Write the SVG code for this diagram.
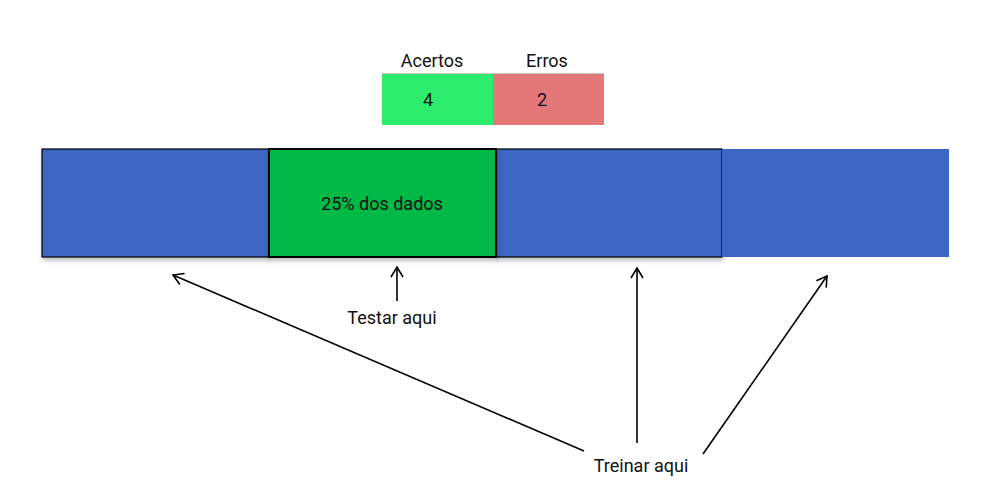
<svg xmlns="http://www.w3.org/2000/svg" width="1000" height="488" viewBox="0 0 1000 488">
<style>
text{font-family:Roboto,"Liberation Sans",sans-serif;font-size:18px;fill:#111;text-anchor:middle}
.blue{fill:#3d66c2}
.edge{stroke:#000;stroke-width:1.6;fill:none}
</style>
<defs>
<marker id="ah" markerWidth="14" markerHeight="14" refX="12" refY="7" orient="auto" markerUnits="userSpaceOnUse">
<path d="M2,1 L12,7 L2,13" fill="none" stroke="#000" stroke-width="1.6"/>
</marker>
<filter id="sh" x="-5%" y="-5%" width="115%" height="120%">
<feDropShadow dx="1" dy="3" stdDeviation="2" flood-color="#000" flood-opacity="0.25"/>
</filter>
</defs>
<rect width="1000" height="488" fill="#fff"/>
<g id="table">
<text x="432" y="67">Acertos</text>
<text x="547" y="67">Erros</text>
<line x1="382" y1="73.5" x2="604" y2="73.5" stroke="#c8c8c8" stroke-width="1"/>
<rect x="382" y="74" width="111" height="51" fill="#2ced6e"/>
<rect x="493" y="74" width="111" height="51" fill="#e47878"/>
<text x="428" y="106">4</text>
<text x="542" y="106">2</text>
</g>
<g id="fold1"><rect x="42" y="149" width="227" height="108" class="blue" stroke="#000" stroke-width="1.2" filter="url(#sh)"/></g>
<g id="fold3"><rect x="496" y="149" width="226" height="108" class="blue" stroke="#000" stroke-width="1.2" filter="url(#sh)"/></g>
<g id="fold4"><rect x="722" y="149" width="227" height="108" class="blue"/></g>
<g id="fold2"><rect x="269" y="149" width="227" height="108" fill="#00b946" stroke="#000" stroke-width="2" filter="url(#sh)"/>
<text x="382" y="210">25% dos dados</text></g>
<g id="labels">
<text x="392" y="324">Testar aqui</text>
<text x="641" y="472">Treinar aqui</text>
</g>
<g id="connectors">
<line class="edge" x1="397" y1="301" x2="397" y2="267" marker-end="url(#ah)"/>
<line class="edge" x1="584" y1="451" x2="173" y2="275" marker-end="url(#ah)"/>
<line class="edge" x1="637" y1="443" x2="637" y2="268" marker-end="url(#ah)"/>
<line class="edge" x1="703" y1="454" x2="827" y2="276" marker-end="url(#ah)"/>
</g>
</svg>
